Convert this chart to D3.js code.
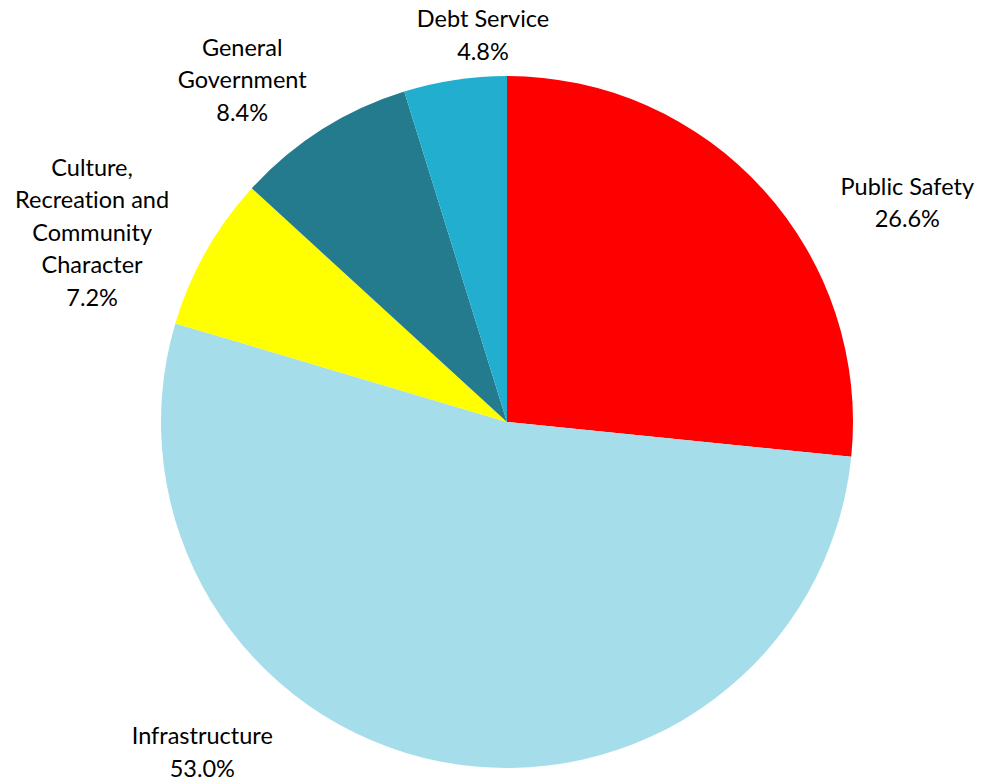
<!DOCTYPE html>
<html>
<head>
<meta charset="utf-8">
<script src="https://cdn.jsdelivr.net/npm/d3@7"></script>
<style>
  html, body { margin: 0; padding: 0; background: #fff; }
  svg { display: block; }
  text { font-family: Lato, "Liberation Sans", sans-serif; font-size: 23.5px; fill: #000; font-variant-ligatures: none; }
</style>
</head>
<body>
<svg id="chart" width="981" height="782"></svg>
<script>
// Budget share by function, clockwise from 12 o'clock
const categories = ["Public Safety", "Infrastructure", "Culture, Recreation and Community Character", "General Government", "Debt Service"];
const shares = [26.6, 53.0, 7.2, 8.4, 4.8];
const labelLines = [
  ["Public Safety"],
  ["Infrastructure"],
  ["Culture,", "Recreation and", "Community", "Character"],
  ["General", "Government"],
  ["Debt Service"]
];
const colors = ["#FF0000", "#A6DDEA", "#FFFF00", "#247B8E", "#22AECF"];

// Label placement nudges relative to the outer label arc
const labelNudge = [[114, 39], [-230, -49], [-79, 0], [-58, -17], [34, -6]];

const width = 981, height = 782;
const cx = 507, cy = 422, radius = 346;
const lineHeight = 32.5;

const svg = d3.select("#chart");
const g = svg.append("g").attr("transform", `translate(${cx},${cy})`);

const data = categories.map((c, i) => ({ name: c, value: shares[i], lines: labelLines[i], color: colors[i], nudge: labelNudge[i] }));

const pie = d3.pie().value(d => d.value).sort(null);
const arc = d3.arc().innerRadius(0).outerRadius(radius);
const labelArc = d3.arc().innerRadius(radius + 40).outerRadius(radius + 40);

const arcs = pie(data);

g.selectAll("path.slice")
  .data(arcs)
  .join("path")
  .attr("class", "slice")
  .attr("d", arc)
  .attr("fill", d => d.data.color);

const fmt = d3.format(".1f");

const labels = g.selectAll("text.label")
  .data(arcs)
  .join("text")
  .attr("class", "label")
  .attr("text-anchor", "middle")
  .attr("transform", d => {
    const [x, y] = labelArc.centroid(d);
    return `translate(${x + d.data.nudge[0]},${y + d.data.nudge[1]})`;
  });

labels.each(function(d) {
  const lines = d.data.lines.concat([fmt(d.data.value) + "%"]);
  const top = -(lines.length - 1) * lineHeight / 2;
  d3.select(this).selectAll("tspan")
    .data(lines)
    .join("tspan")
    .attr("x", 0)
    .attr("y", (l, i) => top + i * lineHeight)
    .attr("dominant-baseline", "central")
    .text(l => l);
});
</script>
</body>
</html>
